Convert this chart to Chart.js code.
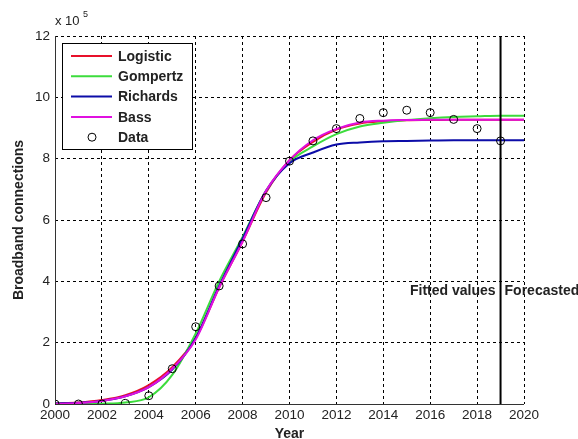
<!DOCTYPE html>
<html><head><meta charset="utf-8">
<script src="https://cdn.jsdelivr.net/npm/chart.js@4/dist/chart.umd.min.js"></script>
<style>html,body{margin:0;padding:0;background:#fff}#wrap{width:578px;height:439px;position:relative}</style>
</head><body><div id="wrap"><canvas id="c" width="578" height="439"></canvas></div>
<script>
const curveYears = [2000,2001,2002,2003,2004,2005,2006,2007,2008,2009,2010,2011,2012,2013,2014,2015,2016,2017,2018,2019,2020];
const logistic = [0.02,0.05,0.13,0.29,0.62,1.2,2.15,3.8,5.3,6.9,7.95,8.55,8.95,9.15,9.22,9.25,9.26,9.27,9.27,9.27,9.27];
const gompertz = [0.0,0.0,0.01,0.05,0.22,0.95,2.3,4.0,5.45,6.95,7.9,8.4,8.8,9.05,9.17,9.26,9.32,9.36,9.38,9.4,9.4];
const richards = [0.02,0.04,0.1,0.25,0.55,1.12,2.15,3.85,5.4,6.95,7.85,8.2,8.46,8.53,8.57,8.58,8.59,8.6,8.6,8.6,8.6];
const bass = [0.0,0.03,0.1,0.25,0.55,1.15,2.1,3.8,5.3,6.95,7.95,8.6,8.97,9.18,9.24,9.26,9.27,9.27,9.27,9.27,9.27];
const dataYears = [2000,2001,2002,2003,2004,2005,2006,2007,2008,2009,2010,2011,2012,2013,2014,2015,2016,2017,2018,2019];
const dataValues = [0,0,0,0.02,0.27,1.15,2.52,3.85,5.22,6.73,7.92,8.58,8.98,9.31,9.5,9.58,9.5,9.28,8.98,8.58];
const xTicks = [2000,2002,2004,2006,2008,2010,2012,2014,2016,2018,2020];
const yTicks = [0,2,4,6,8,10,12];
const splitYear = 2019;
const annotY = 3.68;

const pts = (xs, ys) => xs.map((x,i)=>({x, y: ys[i]}));
const FONT = '"Liberation Sans", Arial, sans-serif';

const lineDs = (label, ys, color, order) => ({
  label, data: pts(curveYears, ys), borderColor: color, backgroundColor: color,
  borderWidth: 2, pointRadius: 0, showLine: true, tension: 0, cubicInterpolationMode: 'monotone', order
});

const overlay = {
  id: 'overlay',
  afterDraw(chart) {
    const ctx = chart.ctx, xs = chart.scales.x, ys = chart.scales.y, a = chart.chartArea;
    ctx.save();
    ctx.strokeStyle = '#333'; ctx.lineWidth = 1;
    ctx.beginPath();
    ctx.moveTo(a.left+0.5, a.top); ctx.lineTo(a.left+0.5, a.bottom+0.5); ctx.lineTo(a.right, a.bottom+0.5);
    ctx.stroke();
    ctx.fillStyle = '#222';
    ctx.font = '13px ' + FONT; ctx.textAlign = 'left'; ctx.textBaseline = 'alphabetic';
    ctx.fillText('x 10', 55, 25);
    ctx.font = '9px ' + FONT;
    ctx.fillText('5', 83, 17);
    ctx.font = 'bold 14px ' + FONT; ctx.textBaseline = 'middle';
    const px = xs.getPixelForValue(splitYear), py = ys.getPixelForValue(annotY);
    ctx.textAlign = 'right'; ctx.fillText('Fitted values', px - 5, py);
    ctx.textAlign = 'left'; ctx.fillText('Forecasted', px + 4, py);
    const lx = 62, ly = 43, lw = 130, lh = 106;
    ctx.fillStyle = '#fff'; ctx.fillRect(lx, ly, lw, lh);
    ctx.strokeStyle = '#000'; ctx.lineWidth = 1; ctx.strokeRect(lx+0.5, ly+0.5, lw, lh);
    const items = chart.data.datasets.filter(d => d.inLegend);
    items.forEach((d, i) => {
      const yy = 56 + i * 20.3;
      if (d.isMarker) {
        ctx.beginPath(); ctx.arc(92, yy, 4, 0, Math.PI*2);
        ctx.strokeStyle = '#000'; ctx.lineWidth = 1; ctx.stroke();
      } else {
        ctx.beginPath(); ctx.moveTo(71, yy); ctx.lineTo(112, yy);
        ctx.strokeStyle = d.borderColor; ctx.lineWidth = 2; ctx.stroke();
      }
      ctx.fillStyle = '#222'; ctx.font = 'bold 14px ' + FONT; ctx.textAlign = 'left';
      ctx.fillText(d.label, 118, yy + 1);
    });
    ctx.restore();
  }
};

const datasets = [
  Object.assign(lineDs('Logistic', logistic, '#e8102a', 5), {inLegend: true}),
  Object.assign(lineDs('Gompertz', gompertz, '#3cdc3c', 4), {inLegend: true}),
  Object.assign(lineDs('Richards', richards, '#0c0ca8', 3), {inLegend: true}),
  Object.assign(lineDs('Bass', bass, '#e010e0', 2), {inLegend: true}),
  { label: 'Data', data: pts(dataYears, dataValues), showLine: false, pointRadius: 4, pointStyle: 'circle',
    pointBorderColor: '#000', pointBackgroundColor: 'rgba(0,0,0,0)', pointBorderWidth: 1, order: 0,
    inLegend: true, isMarker: true },
  { label: 'split', data: [{x: splitYear, y: 0}, {x: splitYear, y: 12}], showLine: true, borderColor: '#000',
    borderWidth: 2, pointRadius: 0, order: 1 }
];

new Chart(document.getElementById('c'), {
  type: 'scatter',
  data: { datasets },
  options: {
    responsive: false, animation: false, devicePixelRatio: 1,
    layout: { padding: { top: 36, right: 54, left: 0, bottom: 0 } },
    plugins: { legend: { display: false }, tooltip: { enabled: false } },
    scales: {
      x: {
        type: 'linear', min: 2000, max: 2020,
        afterBuildTicks: s => { s.ticks = xTicks.map(v => ({value: v})); },
        afterFit: s => { s.height = 35; },
        grid: { color: '#000', lineWidth: 1, drawTicks: false },
        border: { display: false, dash: [3,3] },
        ticks: { color: '#222', font: { family: FONT, size: 13.5 }, padding: 3, maxRotation: 0, callback: v => String(v) },
        title: { display: true, text: 'Year', color: '#222', font: { family: FONT, size: 14, weight: 'bold' }, padding: { top: 2, bottom: -4 } }
      },
      y: {
        min: 0, max: 12,
        afterBuildTicks: s => { s.ticks = yTicks.map(v => ({value: v})); },
        afterFit: s => { s.width = 55; },
        grid: { color: '#000', lineWidth: 1, drawTicks: false },
        border: { display: false, dash: [3,3] },
        ticks: { color: '#222', font: { family: FONT, size: 13.5 }, padding: 5 },
        title: { display: true, text: 'Broadband connections', color: '#222', font: { family: FONT, size: 14, weight: 'bold' }, padding: { top: 11, bottom: 4 } }
      }
    }
  },
  plugins: [overlay]
});
</script></body></html>
